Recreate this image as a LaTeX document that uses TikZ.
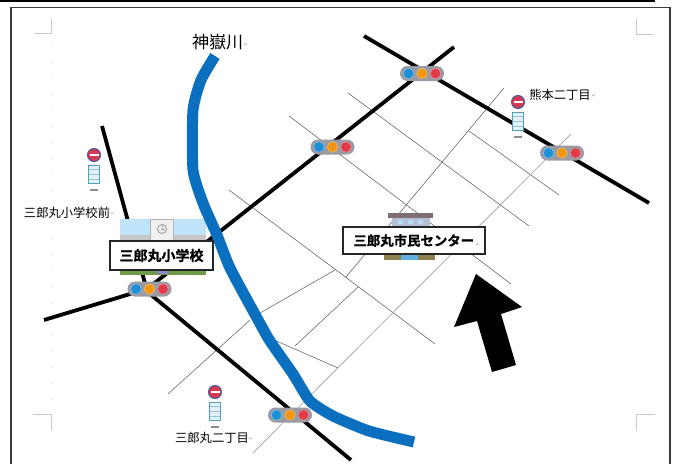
\documentclass[tikz,border=0pt]{standalone}
\usepackage{fontspec}
\setmainfont{Liberation Sans}
\newfontfamily\cjk{Noto Sans CJK JP}
\newfontfamily\cjkb[FakeBold=1]{Noto Sans CJK JP Bold}
\newfontfamily\symf{DejaVu Sans}
\definecolor{river}{HTML}{0A6FBE}
\definecolor{pillgrey}{HTML}{9A9AA4}
\definecolor{lampb}{HTML}{1C8FD6}
\definecolor{lampo}{HTML}{F0960F}
\definecolor{lampr}{HTML}{E23A48}
\definecolor{frame}{HTML}{3C3C3C}
\definecolor{crop}{HTML}{C8C8C8}
\definecolor{roofblue}{HTML}{BFE3F8}
\definecolor{stopblue}{HTML}{4E9DBB}
\definecolor{stoppale}{HTML}{E4F1F6}
\definecolor{stopred}{HTML}{D43A52}
\definecolor{stopnavy}{HTML}{4A5A9A}
\definecolor{olive}{HTML}{8E7F4E}
\definecolor{walls}{HTML}{B4C0D6}
\definecolor{roofbrown}{HTML}{7E6E74}
\definecolor{greenstrip}{HTML}{6F9A4A}
\definecolor{purpledoor}{HTML}{8E86C4}
\tikzset{
  road/.style={line width=3.8pt,black},
  lane/.style={line width=0.55pt,black!62},
  palelane/.style={line width=0.8pt,black!32},
  riverline/.style={line width=11pt,river,line join=round},
  cropmark/.style={line width=0.7pt,crop},
  pill/.style={draw=none,fill=pillgrey,rounded corners=7.5pt,minimum width=44pt,minimum height=15pt,inner sep=0pt},
  lamp/.style={circle,inner sep=0pt,minimum size=10.5pt,draw=#1!55!white,line width=0.5pt,fill=#1},
  place/.style={font=\cjk\fontsize{12.3pt}{13pt}\selectfont,text=black,inner sep=0pt},
  labelbox/.style={draw=black!85,line width=1.6pt,fill=white,inner sep=0pt,font=\cjkb\fontsize{14pt}{15pt}\selectfont},
  retmark/.style={font=\symf\fontsize{5pt}{5pt}\selectfont,text=black!40,inner sep=0pt},
  stopdisc/.style={circle,draw=stopnavy,line width=1pt,fill=stopred,minimum size=13pt,inner sep=0pt},
  stoppanel/.style={draw=stopblue,line width=0.8pt,fill=stoppale,minimum width=11.5pt,minimum height=18pt,inner sep=0pt},
  stopbase/.style={fill=black!45,minimum width=8pt,minimum height=2.6pt,inner sep=0pt},
  faint/.style={circle,fill=black!16,minimum size=1.5pt,inner sep=0pt},
}
\newcommand{\signal}[3]{%
  \node[pill] (#1) at (#2,#3) {};
  \node[lamp=lampb] at ([xshift=-13.5pt]#1.center) {};
  \node[lamp=lampo] at (#1.center) {};
  \node[lamp=lampr] at ([xshift=13.5pt]#1.center) {};
}
\newcommand{\busstop}[3]{%
  \node[stoppanel] (#1p) at (#2,#3+19) {};
  \node[stopdisc] (#1d) at (#2,#3) {};
  \fill[white] (#2-4.5,#3-1.3) rectangle (#2+4.5,#3+1.3);
  \draw[line width=0.3pt,stopblue!60] (#2-5,#3+14) -- (#2+5,#3+14) (#2-5,#3+19) -- (#2+5,#3+19) (#2-5,#3+24) -- (#2+5,#3+24);
  \node[stopbase] (#1b) at (#2,#3+35) {};
}
\begin{document}
\begin{tikzpicture}[x=1pt,y=-1pt]
\useasboundingbox (0,0) rectangle (676,463);
\fill[white] (0,0) rectangle (676,463);
% page
\draw[line width=1.6pt,black] (0,0.8) -- (655,0.8);
\draw[line width=1.1pt,frame] (11,464) -- (11,7.5) -- (670,7.5) -- (670,464);
% crop marks
\draw[cropmark] (35,33.5) -- (51,33.5) -- (51,19);
\draw[cropmark] (636,19) -- (636,34) -- (653,34);
\draw[cropmark] (33,414) -- (51,414) -- (51,430);
\draw[cropmark] (636,431) -- (636,414) -- (655,414);
\foreach \yy in {45,62,77,94,109,126,142,158,173,190,206,222,238,254,269,286,303,319,334,350,367,383,399}
  \node[faint] at (52,\yy) {};
% lanes
\coordinate (t1a) at (289,116); \coordinate (t1b) at (511,284);
\coordinate (t2a) at (229,190); \coordinate (t2b) at (435,344);
\coordinate (t3a) at (348,93);  \coordinate (t3b) at (529,226);
\coordinate (t4a) at (469,131); \coordinate (t4b) at (559,195);
\coordinate (t5a) at (272,339); \coordinate (t5b) at (338,368);
\coordinate (a1a) at (504,88);  \coordinate (a1b) at (346,277);
\coordinate (a2a) at (571,134); \coordinate (a2b) at (253,453);
\coordinate (a3a) at (358,287); \coordinate (a3b) at (295,346);
\coordinate (a4a) at (335,270); \coordinate (a4b) at (260,313);
\coordinate (a5a) at (250,320); \coordinate (a5b) at (168,394);
\draw[lane] (t1a) -- (t1b);
\draw[lane] (t2a) -- (t2b);
\draw[lane] (t3a) -- (t3b);
\draw[lane] (t4a) -- (t4b);
\draw[lane] (t5a) -- (t5b);
\draw[lane] (a1a) -- (a1b);
\draw[palelane] (a2a) -- (a2b);
\draw[lane] (a3a) -- (a3b);
\draw[lane] (a4a) -- (a4b);
\draw[lane] (a5a) -- (a5b);
% roads
\coordinate (r1a) at (364,36);  \coordinate (r1b) at (649,203);
\coordinate (r2a) at (454,47);  \coordinate (r2b) at (152,285);
\coordinate (r3a) at (102,126); \coordinate (r3b) at (146,287);
\coordinate (r4a) at (44,320);  \coordinate (r4b) at (140,291);
\coordinate (r5a) at (150,294); \coordinate (r5b) at (351,460);
\draw[road] (r1a) -- (r1b);
\draw[road] (r2a) -- (r2b);
\draw[road] (r3a) -- (r3b);
\draw[road] (r4a) -- (r4b);
\draw[road] (r5a) -- (r5b);
% school
\fill[white] (120,219) rectangle (206,272);
\fill[roofblue] (120,219) rectangle (206,235);
\fill[black!22] (120,235) rectangle (206,241);
\fill[black!6,draw=black!30,line width=0.5pt] (150,219) rectangle (173,241);
\draw[black!45,line width=0.7pt] (162,229) circle (4.5pt);
\draw[black!60,line width=0.5pt] (162,225.5) -- (162,229) -- (164.5,230);
\fill[greenstrip] (120,270) rectangle (206,274.5);
\fill[purpledoor] (157,269) rectangle (168,274);
% river
\draw[riverline] plot[smooth,tension=0.35] coordinates {(215,56) (201,80) (193,110) (193,170) (203,203) (217,235) (230,268) (257,318) (270,341) (293,374) (310,401) (333,416) (369,431) (414,442)};
\node[font=\cjk\fontsize{17pt}{18pt}\selectfont,text=black,inner sep=0pt] (rivername) at (217.5,42) {神嶽川};
\node[retmark] at (246,45) {↵};
% civic centre
\fill[walls] (392,217) rectangle (430,228);
\fill[roofbrown] (388,213) rectangle (433,217.5);
\foreach \xx in {398,408,418} \fill[white!70!lampb] (\xx,220) rectangle (\xx+5,224);
\fill[olive] (384,253) rectangle (435,260);
\fill[lampb!70!white] (401,253) rectangle (418,260);
% labels
\node[labelbox,minimum width=103pt,minimum height=29pt] (school) at (161.5,255.5) {三郎丸小学校};
\node[labelbox,font=\cjkb\fontsize{13.4pt}{15pt}\selectfont,minimum width=142pt,minimum height=27pt,text width=121pt,align=left] (centre) at (414,240.5) {三郎丸市民センター};
\node[retmark] at (478,245) {↵};
\node[place] (s1) at (67,213) {三郎丸小学校前};
\node[retmark] at (113,214) {↵};
\node[place] (s2) at (560,95) {熊本二丁目};
\node[retmark] at (594,96) {↵};
\node[place] (s3) at (212,438) {三郎丸二丁目};
\node[retmark] at (251,439) {↵};
% signals
\signal{sa}{422}{73.5}
\signal{sb}{332.5}{147}
\signal{sc}{562}{153}
\signal{sd}{149.5}{289}
\signal{se}{290}{415}
% bus stops
\busstop{b1}{94}{155}
\busstop{b2}{518}{102}
\busstop{b3}{215}{392}
% arrow
\fill[black] (476,274) -- (522,307) -- (501,314) -- (516,365) -- (492,372) -- (477,321) -- (454,327) -- cycle;
\end{tikzpicture}
\end{document}
